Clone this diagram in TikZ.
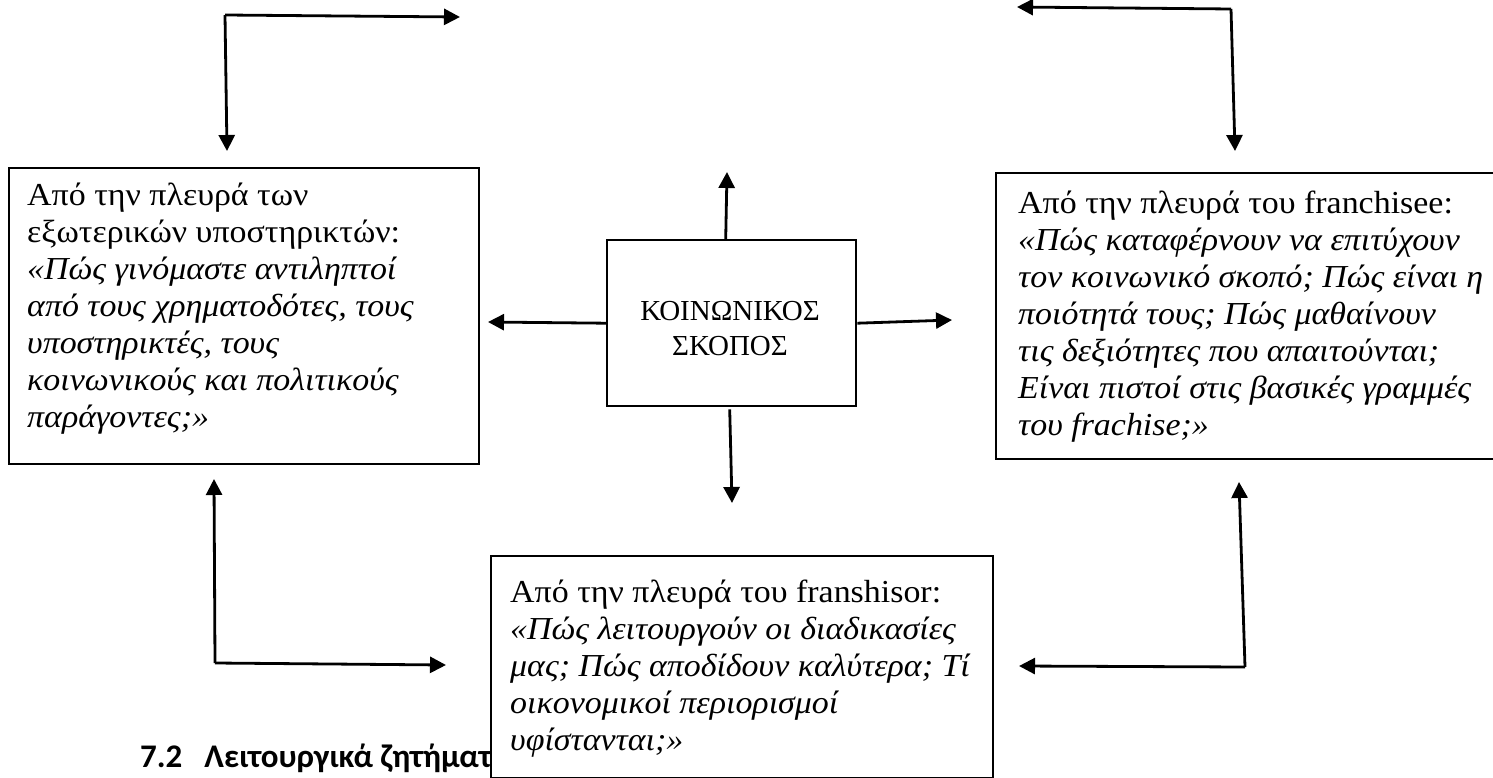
\documentclass[tikz,border=0pt]{standalone}
\usepackage{fontspec}
\setmainfont{Liberation Serif}[FakeStretch=1.06]
\newfontfamily\timesgr{Liberation Serif}
\newfontfamily\calib{Carlito}
\usetikzlibrary{arrows.meta,calc}
\begin{document}
\begin{tikzpicture}[x=1pt,y=-1pt,
  boxline/.style={draw=black, line width=2.4pt, fill=white, inner sep=0pt},
  conn/.style={line width=2.8pt, -{Triangle[length=16pt,width=16pt]}},
  bodytext/.style={anchor=north west, inner sep=0pt, align=left, font=\fontsize{32}{37}\selectfont},
]
\useasboundingbox (0,0) rectangle (1493,778);
\clip (0,0) rectangle (1493,778);

% heading partly hidden by the bottom box
\node[anchor=base west, inner sep=0pt, font=\calib\bfseries\fontsize{33}{38}\selectfont] (head) at (140,767) {7.2\hspace{22pt}Λειτουργικά ζητήματ};

% boxes
\node[boxline, minimum width=470pt, minimum height=296pt, anchor=north west] (lbox) at (8,167) {};
\node[boxline, minimum width=530pt, minimum height=286pt, anchor=north west] (rbox) at (995,172) {};
\node[boxline, minimum width=502pt, minimum height=222pt, anchor=north west] (bbox) at (490,555) {};
\node[boxline, minimum width=249pt, minimum height=166pt, anchor=north west] (cbox) at (606,239) {};

% texts
\node[bodytext] (ltext) at (27,177) {\rule{0pt}{28pt}Από την πλευρά των\\
εξωτερικών υποστηρικτών:\\
\textit{«Πώς γινόμαστε αντιληπτοί}\\
\textit{από τους χρηματοδότες, τους}\\
\textit{υποστηρικτές, τους}\\
\textit{κοινωνικούς και πολιτικούς}\\
\textit{παράγοντες;»}};

\node[bodytext] (rtext) at (1018,185) {\rule{0pt}{28pt}Από την πλευρά του franchisee:\\
\textit{«Πώς καταφέρνουν να επιτύχουν}\\
\textit{τον κοινωνικό σκοπό; Πώς είναι η}\\
\textit{ποιότητά τους; Πώς μαθαίνουν}\\
\textit{τις δεξιότητες που απαιτούνται;}\\
\textit{Είναι πιστοί στις βασικές γραμμές}\\
\textit{του frachise;»}};

\node[bodytext] (btext) at (510,574) {\rule{0pt}{28pt}Από την πλευρά του franshisor:\\
\textit{«Πώς λειτουργούν οι διαδικασίες}\\
\textit{μας; Πώς αποδίδουν καλύτερα; Τί}\\
\textit{οικονομικοί περιορισμοί}\\
\textit{υφίστανται;»}};

\node[anchor=north, inner sep=0pt, align=center, font=\timesgr\fontsize{29}{35}\selectfont] (ctext) at (730,294) {\rule{0pt}{26pt}ΚΟΙΝΩΝΙΚΟΣ\\ΣΚΟΠΟΣ};

% connector end points
\coordinate (tlc) at (225,15);
\coordinate (tlh) at (460,17);
\coordinate (tlv) at (227,151);
\coordinate (trc) at (1231,9);
\coordinate (trh) at (1017,7);
\coordinate (trv) at (1235,151);
\coordinate (cup) at (727,172);
\coordinate (cleft) at (488,322);
\coordinate (cright) at (952,320);
\coordinate (cdown) at (732,503);
\coordinate (blc) at (215,663);
\coordinate (blv) at (214,479);
\coordinate (blh) at (446,665);
\coordinate (brc) at (1245,667);
\coordinate (brh) at (1019,666);
\coordinate (brv) at (1239,482);

% connectors
\draw[conn] (tlc) -- (tlh);
\draw[conn] (tlc) -- (tlv);
\draw[conn] (trc) -- (trh);
\draw[conn] (trc) -- (trv);
\draw[conn] ($(cbox.north)+(-6,0)$) -- (cup);
\draw[conn] (cbox.west) -- (cleft);
\draw[conn] (cbox.east) -- (cright);
\draw[conn] ($(cbox.south)+(-2,2)$) -- (cdown);
\draw[conn] (blc) -- (blv);
\draw[conn] (blc) -- (blh);
\draw[conn] (brc) -- (brh);
\draw[conn] (brc) -- (brv);
\end{tikzpicture}
\end{document}
